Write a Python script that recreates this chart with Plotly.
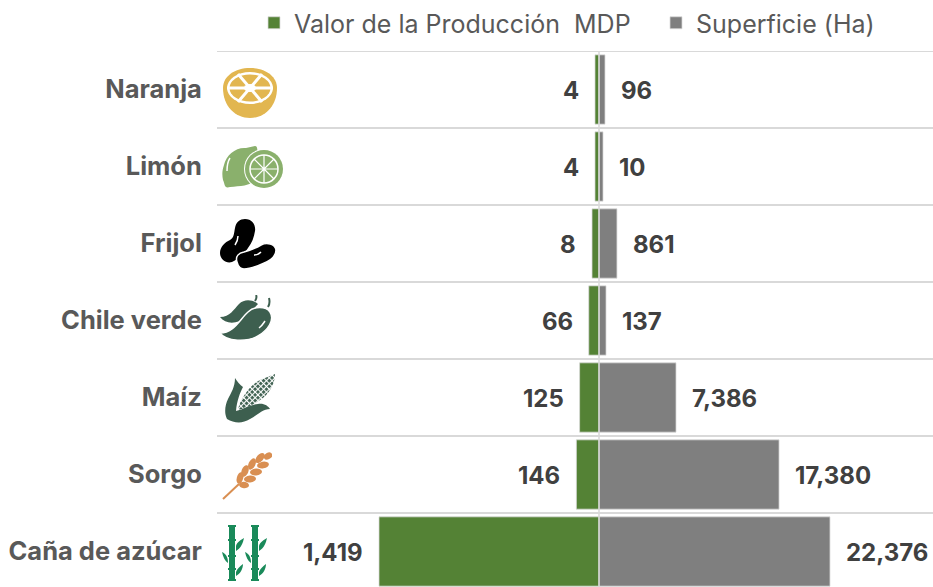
import base64
import plotly.graph_objects as go

categorias = ["Caña de azúcar", "Sorgo", "Maíz", "Chile verde", "Frijol", "Limón", "Naranja"]
valor_etiquetas = ["1,419", "146", "125", "66", "8", "4", "4"]
superficie_etiquetas = ["22,376", "17,380", "7,386", "137", "861", "10", "96"]
# drawn bar lengths (small bars are not to scale in the original)
valor_barras = [1419, 146, 125, 66, 45, 26, 26]
superficie_barras = [22376, 17440, 7460, 680, 1740, 390, 580]

W, H = 933, 587
L, T = 217, 51
CX = 599
VERDE, GRIS = "#548235", "#7f7f7f"
FONT = "Inter"

CANE = '''<rect x="7" y="0" width="6" height="15"/><rect x="7" y="16" width="6" height="15"/><rect x="7" y="32" width="6" height="11"/><rect x="7" y="44" width="6" height="12"/>
<rect x="6" y="0" width="8" height="2"/><rect x="6" y="14" width="8" height="2"/><rect x="6" y="30" width="8" height="2"/><rect x="6" y="43" width="8" height="2"/><rect x="6" y="54" width="8" height="2"/>
<path d="M14 21C15 17 19 15 22 13C21 18 19 23 14 26ZM6 38C3 36 1 32 0 27C4 29 6 32 6 38ZM14 47C15 44 18 41 21 39C21 44 18 49 14 51Z"/>'''

ICONS = {
"Naranja": (223, 68, 54, 50, '''<path fill="#e2b650" d="M0 20C0 8 12 0 27 0S54 8 54 20C54 38 42 50 27 50S0 38 0 20Z"/>
<ellipse cx="27" cy="20" rx="23" ry="16" fill="#fff"/><ellipse cx="27" cy="20" rx="20.5" ry="13.5" fill="#e2b650"/>
<path d="M4 20H50M15 6L39 34M39 6L15 34" stroke="#fff" stroke-width="3"/><ellipse cx="27" cy="20" rx="6" ry="4" fill="#fff"/>'''),
"Limón": (222, 146, 62, 43, '''<path fill="#8ab06c" d="M2 19C4 9 14 1 24 2L33 0C36 0 35 5 36 8L34 34C28 40 18 40 8 41C2 43 3 38 1 34C0 29 0 25 2 19Z"/>
<path d="M5 25C5 20 6 15 8 12" stroke="#fff" stroke-width="1.5" fill="none"/>
<circle cx="42" cy="23" r="20" fill="#fff"/><circle cx="42" cy="23" r="19" fill="#8ab06c"/><circle cx="42" cy="23" r="14" fill="none" stroke="#fff" stroke-width="1.5"/>
<path d="M28 23H56M42 9V37M32 13L52 33M52 13L32 33" stroke="#fff" stroke-width="1.2"/>'''),
"Frijol": (220, 219, 56, 50, '''<path fill="#000" d="M25 0C32 0 36 6 35 12C34 18 32 24 28 29C24 35 18 40 12 43C6 45 0 40 0 34C0 28 5 23 10 21C14 19 14 14 15 9C16 3 20 0 25 0Z"/>
<path fill="#000" stroke="#fff" stroke-width="1.5" d="M17 43C15 37 19 34 24 33C31 31 36 29 41 26C47 23 55 25 56 31C56 37 50 42 42 45C35 48 29 50 24 50C20 50 18 47 17 43Z"/>
<path d="M18 17C18 20 17 23 15 26M34 36C37 36 39 35 41 33" stroke="#fff" stroke-width="1.5" fill="none"/>'''),
"Chile verde": (220, 295, 54, 46, '''<path fill="#3d5f4f" d="M0 22C10 22 14 14 19 9C24 4 32 4 38 9L26 22C18 29 6 30 0 22Z"/>
<path fill="#3d5f4f" stroke="#fff" stroke-width="1.5" d="M0 38C14 38 20 24 28 17C34 11 46 11 50 17C55 25 48 35 38 41C28 47 6 47 0 38Z"/>
<path d="M35 6C37 3 37 2 36 0M48 12C50 9 50 7 49 3" stroke="#3d5f4f" stroke-width="2" fill="none"/>
<path d="M39 33C42 31 43 29 45 26" stroke="#fff" stroke-width="1.5" fill="none"/>'''),
"Maíz": (224, 373, 52, 51, '''<defs><pattern id="h" width="4" height="4" patternUnits="userSpaceOnUse" patternTransform="rotate(45)"><rect width="2.9" height="2.9" fill="#3d5f4f"/></pattern></defs>
<path fill="url(#h)" d="M14 37C16 26 26 12 36 7L51 1C51 12 44 22 36 27C28 33 20 36 14 37Z"/>
<path fill="#3d5f4f" d="M11 5C13 8 16 12 19 14C16 20 13 27 12 38C20 36 28 31 34 31C40 30 44 33 46 36C38 36 34 42 26 46C18 51 10 50 3 46C0 40 1 32 4 26C7 20 11 14 11 5Z"/>'''),
"Sorgo": (222, 452, 50, 50, '''<path d="M1 47L17 32" stroke="#d98f52" stroke-width="2" fill="none"/>
<g fill="#d98f52"><ellipse cx="46" cy="4" rx="4.5" ry="3.2" transform="rotate(-30 46 4)"/>
<ellipse cx="38" cy="6" rx="6" ry="3.4" transform="rotate(-50 38 6)"/><ellipse cx="41" cy="13" rx="6" ry="3.4" transform="rotate(-10 41 13)"/>
<ellipse cx="30" cy="12" rx="6" ry="3.4" transform="rotate(-65 30 12)"/><ellipse cx="34" cy="20" rx="6" ry="3.4" transform="rotate(-5 34 20)"/>
<ellipse cx="23" cy="19" rx="6" ry="3.4" transform="rotate(-70 23 19)"/><ellipse cx="28" cy="27" rx="6" ry="3.4" transform="rotate(-5 28 27)"/>
<ellipse cx="18" cy="26" rx="6" ry="3.2" transform="rotate(-75 18 26)"/><ellipse cx="22" cy="33" rx="5" ry="3.2" transform="rotate(5 22 33)"/></g>'''),
"Caña de azúcar": (222, 525, 45, 56, f'''<g fill="#1a8a5a">{CANE}</g><g transform="translate(23 0)" fill="#1a8a5a">{CANE}</g>'''),
}

plot_w, plot_h = W - L, H - T
fx = lambda px: (px - L) / plot_w
fy = lambda py: 1 - (py - T) / plot_h

fig = go.Figure()
fig.add_bar(y=categorias, x=valor_barras, orientation="h", name="Valor de la Producción  MDP", legend="legend",
            marker=dict(color=VERDE, line=dict(color="#d9d9d9", width=0.75)), xaxis="x", width=0.9, hoverinfo="skip")
fig.add_bar(y=categorias, x=superficie_barras, orientation="h", name="Superficie (Ha)", legend="legend2",
            marker=dict(color=GRIS, line=dict(color="#d9d9d9", width=0.75)), xaxis="x2", width=0.9, hoverinfo="skip")

annotations = []
for c, v, t in zip(categorias, valor_barras, valor_etiquetas):
    annotations.append(dict(x=v, y=c, xref="x", yref="y", text=f"<b>{t}</b>", showarrow=False,
                            xanchor="right", xshift=-14, yshift=-1, font=dict(family=FONT, size=24, color="#404040")))
for c, v, t in zip(categorias, superficie_barras, superficie_etiquetas):
    annotations.append(dict(x=v, y=c, xref="x2", yref="y", text=f"<b>{t}</b>", showarrow=False,
                            xanchor="left", xshift=14, yshift=-1, font=dict(family=FONT, size=24, color="#404040")))

shapes = [dict(type="line", xref="paper", yref="y", x0=0, x1=1, y0=i + 0.5, y1=i + 0.5,
               line=dict(color="#d9d9d9", width=2), layer="below") for i in range(len(categorias))]
shapes.append(dict(type="line", xref="paper", yref="paper", x0=fx(CX), x1=fx(CX), y0=0, y1=1,
                   line=dict(color="#d9d9d9", width=1.5), layer="above"))

images = []
for name, (x, y, w, h, body) in ICONS.items():
    svg = f'<svg xmlns="http://www.w3.org/2000/svg" width="{w}" height="{h}" viewBox="0 0 {w} {h}">{body}</svg>'
    uri = "data:image/svg+xml;base64," + base64.b64encode(svg.encode()).decode()
    images.append(dict(source=uri, xref="paper", yref="paper", x=fx(x), y=fy(y), sizex=w / plot_w, sizey=h / plot_h,
                       xanchor="left", yanchor="top", sizing="stretch", layer="above"))

leg = dict(orientation="h", yanchor="middle", y=fy(23), xanchor="left",
           font=dict(family=FONT, size=25, color="#595959"), bgcolor="rgba(0,0,0,0)", itemclick=False, itemdoubleclick=False)
fig.update_layout(
    width=W, height=H, margin=dict(l=L, r=0, t=T, b=0), paper_bgcolor="white", plot_bgcolor="white",
    barmode="overlay", bargap=0.1, showlegend=True,
    legend=dict(leg, x=fx(254)),
    legend2=dict(leg, x=fx(656)),
    xaxis=dict(domain=[0, fx(CX)], range=[2464, 0], visible=False, fixedrange=True),
    xaxis2=dict(domain=[fx(CX), 1], range=[0, 32354], visible=False, fixedrange=True),
    yaxis=dict(type="category", categoryorder="array", categoryarray=categorias, range=[-0.461, 6.5],
               showgrid=False, zeroline=False, showline=False, ticks="outside", ticklen=9, tickcolor="rgba(0,0,0,0)",
               tickfont=dict(family=FONT, size=25.5, color="#595959", weight=700), fixedrange=True),
    annotations=annotations, shapes=shapes, images=images,
)
fig.write_html("out.html", config={"displayModeBar": False},
               post_script="document.body.style.margin='0';")
